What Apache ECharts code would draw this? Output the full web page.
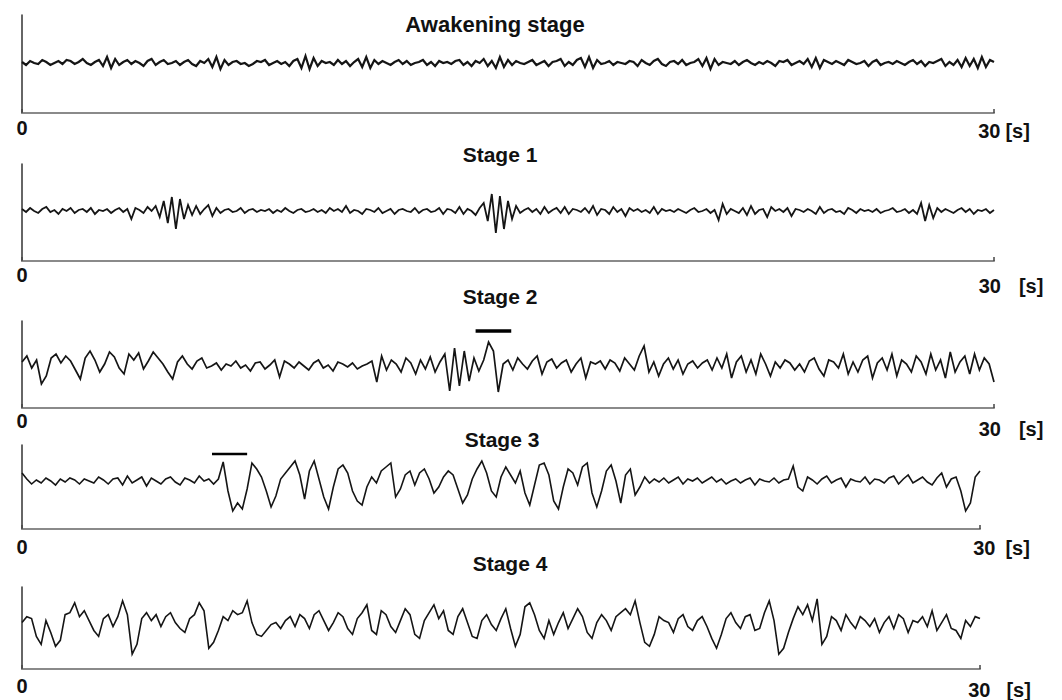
<!DOCTYPE html>
<html>
<head>
<meta charset="utf-8">
<style>
  html, body { margin: 0; padding: 0; background: #fff; }
  #chart { width: 1062px; height: 700px; }
</style>
<script src="https://cdn.jsdelivr.net/npm/echarts@6/dist/echarts.min.js"></script>
</head>
<body>
<div id="chart"></div>
<script>
// EEG traces, one value per sample, 0 = trace baseline
const stageNames = ['Awakening stage', 'Stage 1', 'Stage 2', 'Stage 3', 'Stage 4'];
const timeRange = [0, 30];
const tickLabels = ['0', '30', '[s]'];

const awakeValues = [
  1,-2,2,0,-1,3,1,-2,0,2,-1,3,2,-1,1,4,0,-2,1,3,
  -3,6,-5,4,-2,1,3,-1,2,0,-3,2,4,-2,1,3,-1,0,2,-2,
  1,3,-1,-3,2,0,4,-4,6,-6,3,-2,1,2,-1,0,-3,-1,2,1,
  3,-2,0,2,-1,1,-3,2,4,-5,7,-6,5,-3,2,0,1,-2,3,-1,
  2,-3,1,4,-4,6,-5,3,-1,2,0,-2,1,3,-1,2,-2,0,1,3,
  -2,1,-3,2,0,1,-1,2,3,-2,1,-3,2,0,4,-3,2,-5,6,-4,
  3,-2,2,0,-1,1,3,-2,0,2,-3,1,2,4,-3,1,-2,3,5,-4,
  6,-5,3,-1,0,2,-2,1,0,-1,2,1,-3,3,0,-2,2,4,-1,-3,
  1,2,-1,3,-2,0,1,4,-3,5,-6,4,-2,1,0,-1,2,-2,1,3,
  0,-2,1,-1,2,0,-3,2,1,3,-2,0,2,-1,4,-4,5,-5,3,1,
  -1,2,0,-2,3,1,-1,0,2,-3,1,3,-2,0,1,-1,2,0,-2,1,
  3,-1,2,-3,1,0,2,4,-3,1,-2,3,-4,5,-3,4,-5,6,-4,3,
  1
];

const stage1Values = [
  2,-1,3,0,-2,2,4,-1,1,-3,2,0,3,-2,1,2,-1,3,-3,1,
  0,2,-2,1,3,-1,2,-8,3,1,-2,4,0,5,-6,10,-12,14,-18,12,
  -8,6,-4,5,-3,2,6,-5,3,-2,1,2,-1,0,3,-2,1,2,-1,1,
  0,2,-2,1,-1,3,0,-2,1,2,-1,0,2,-1,1,-2,3,0,2,-1,
  5,-2,1,0,-3,2,1,-1,3,-2,0,2,-3,1,2,0,-1,3,-2,1,
  2,-1,0,3,-3,2,1,-2,4,-3,2,0,-4,3,8,-10,17,-22,15,-18,
  10,-8,5,-2,1,3,-1,2,-3,4,-2,1,3,-2,4,-3,2,1,-1,3,
  -2,5,-4,2,1,-3,4,-1,2,-5,3,0,2,-1,1,-2,4,-3,2,0,
  1,-1,2,0,-2,1,3,-1,0,2,-2,1,-9,7,-3,2,0,-2,3,-4,
  5,-3,1,2,-6,4,0,2,-1,3,-5,2,1,-1,2,0,-3,4,-2,1,
  2,-1,0,-3,3,1,-2,2,0,1,-1,2,-2,0,1,3,-1,0,2,-2,
  1,-3,8,-10,6,-7,3,-1,2,0,-2,1,3,-1,2,-3,1,0,2,-2,
  1
];

const stage2Values = [
  4,10,-2,6,-18,-10,8,12,3,10,5,-4,-13,8,15,6,-6,2,14,9,
  -2,-8,12,6,13,-3,5,14,8,2,-6,-13,4,10,2,-3,5,8,-2,0,
  3,-4,2,0,5,-2,1,-5,3,4,-3,1,6,-11,5,2,-2,4,0,-4,
  3,6,-2,1,-5,4,2,-1,3,-3,0,2,5,-16,10,-4,6,2,-6,8,
  3,-8,6,-3,9,-6,4,12,-25,18,-20,15,-15,8,-5,6,24,15,-26,2,
  6,-4,8,2,-3,5,10,-8,4,7,-2,3,6,-6,2,8,-12,4,2,5,
  -3,6,3,-5,8,2,-4,10,20,-6,4,-10,2,8,-3,6,-8,2,5,-2,
  3,6,-4,8,-2,12,-12,4,10,-6,6,-8,12,2,-10,4,-2,6,3,-4,
  2,-6,5,8,-3,-10,6,4,-2,12,-8,4,-6,6,10,-12,3,8,-4,12,
  -10,6,2,-6,10,4,-8,12,-4,6,-12,14,-6,4,10,-8,12,-4,8,2,
  -16
];

const stage3Values = [
  8,2,-3,1,-2,3,0,-4,2,-1,3,1,-3,2,0,-2,4,1,-3,2,
  3,-4,5,-2,1,4,-5,3,0,-3,2,4,-1,-4,3,1,-2,5,0,2,
  -3,2,19,-10,-30,-22,-28,-8,18,12,4,-10,-26,-15,2,8,14,20,6,-18,
  10,20,2,-16,-28,-6,12,16,8,-10,-20,-24,-6,4,-2,10,14,18,-16,-8,
  6,10,-4,8,12,2,-12,-6,4,10,6,-8,-22,-14,2,12,20,8,-10,-16,
  4,14,6,-2,10,-12,-24,-4,16,18,6,-20,-28,-6,12,8,-4,14,18,-12,
  -26,-10,10,16,0,-22,6,12,-14,-6,4,-2,2,-1,3,-2,1,4,-3,2,
  0,3,-2,1,4,-1,2,-3,0,2,-2,1,3,-4,2,0,-1,3,-2,1,
  2,15,-6,-10,4,1,-3,2,5,-2,1,3,-6,2,0,-1,4,-3,2,1,
  -2,3,5,-3,2,6,-2,1,4,-1,-4,3,8,-6,2,4,-10,-30,-22,4,
  10
];

const stage4Values = [
  2,8,6,-12,-20,4,-8,-22,-16,10,12,22,8,14,4,-6,-12,6,10,-2,
  8,24,10,-30,-20,6,12,4,10,-2,8,12,2,-4,-8,6,10,22,14,-24,
  -18,-6,8,4,14,10,12,24,2,-10,-12,-6,0,2,-4,4,8,-2,10,6,
  -4,10,14,4,-6,2,12,8,-4,-10,6,12,20,-6,-10,14,10,-2,-8,4,
  16,10,-10,-14,4,12,20,6,14,-6,-10,8,16,2,-12,-14,4,10,0,-6,
  6,16,-4,-22,-10,18,22,10,-6,-14,4,-10,2,12,-4,6,16,8,-8,-14,
  2,10,4,-6,8,12,16,10,24,2,-18,-22,-10,8,4,2,-8,6,10,-2,
  -6,4,8,-2,-14,-24,-10,6,12,2,-4,8,10,-6,-4,12,24,4,-30,-24,
  -8,6,18,10,20,4,26,-20,-12,8,4,-6,10,2,-4,8,4,-2,6,-8,
  2,8,-4,10,6,-8,4,2,8,-2,14,-6,2,10,-4,-6,-14,4,-2,8,
  6
];

// horizontal bars over the marked events: [start s, end s], level
const stage2Marker = [14.0, 15.1];
const stage2MarkerLevel = 35;
const stage3Marker = [5.95, 7.05];
const stage3MarkerLevel = 27;

const traces = [awakeValues, stage1Values, stage2Values, stage3Values, stage4Values];

// layout per panel
const layout = [
  { grid: { left: 22, top: 15, width: 972, height: 98 }, y: [-50, 48], title: [495, 13], margin: 5, pt: 3, pl: 20, gap: 5, lw: 2.2 },
  { grid: { left: 22, top: 164, width: 972, height: 97 }, y: [-50, 47], title: [500, 144], margin: 4, pt: 11, pl: 34, gap: 18, lw: 1.8 },
  { grid: { left: 22, top: 321, width: 972, height: 87 }, y: [-42, 45], title: [500, 286], margin: 3, pt: 8, pl: 34, gap: 18, lw: 1.7 },
  { grid: { left: 22, top: 445, width: 958, height: 84 }, y: [-48, 36], title: [502, 429], margin: 8, pt: 1, pl: 43, gap: 10, lw: 1.6 },
  { grid: { left: 22, top: 587, width: 958, height: 83 }, y: [-45, 38], title: [510, 553], margin: 7, pt: 4, pl: 39, gap: 16, lw: 1.6 }
];

const font = 'Liberation Sans, Arial, sans-serif';

const toPairs = (vals) => vals.map((v, i) => [timeRange[0] + i * (timeRange[1] - timeRange[0]) / (vals.length - 1), v]);

const chart = echarts.init(document.getElementById('chart'), null, { renderer: 'svg' });

const option = {
  animation: false,
  backgroundColor: '#fff',
  title: layout.map((l, i) => ({
    text: stageNames[i],
    left: l.title[0],
    top: l.title[1],
    textAlign: 'center',
    padding: 0,
    textStyle: { fontFamily: font, fontSize: i === 0 ? 22 : 21, fontWeight: 'bold', color: '#111' }
  })),
  grid: layout.map(l => l.grid),
  xAxis: layout.map((l, i) => ({
    type: 'value',
    gridIndex: i,
    min: timeRange[0],
    max: timeRange[1],
    interval: timeRange[1] - timeRange[0],
    splitLine: { show: false },
    axisLine: { onZero: false, lineStyle: { color: '#8a8a8a', width: 2 } },
    axisTick: { show: true, inside: true, length: 4, lineStyle: { color: '#444', width: 1.5 } },
    axisLabel: {
      show: true,
      showMinLabel: true,
      showMaxLabel: true,
      margin: l.margin,
      fontFamily: font,
      fontSize: 20,
      fontWeight: 'bold',
      color: '#111',
      formatter: v => v === timeRange[0] ? tickLabels[0] : '{m|' + tickLabels[1] + '}{s|' + tickLabels[2] + '}',
      rich: {
        m: { fontFamily: font, fontSize: 20, fontWeight: 'bold', color: '#111', padding: [l.pt, 0, 0, l.pl] },
        s: { fontFamily: font, fontSize: 20, fontWeight: 'bold', color: '#111', padding: [l.pt, 0, 0, l.gap] }
      }
    }
  })),
  yAxis: layout.map((l, i) => ({
    type: 'value',
    gridIndex: i,
    min: l.y[0],
    max: l.y[1],
    splitLine: { show: false },
    axisTick: { show: false },
    axisLabel: { show: false },
    axisLine: { show: true, onZero: false, lineStyle: { color: '#333', width: 1.5 } }
  })),
  series: traces.map((vals, i) => ({
    type: 'line',
    xAxisIndex: i,
    yAxisIndex: i,
    data: toPairs(vals),
    showSymbol: false,
    symbol: 'none',
    lineStyle: { color: '#151515', width: layout[i].lw, join: 'miter' },
    silent: true
  })).concat([
    {
      type: 'line', xAxisIndex: 2, yAxisIndex: 2, symbol: 'none',
      data: stage2Marker.map(t => [t, stage2MarkerLevel]),
      lineStyle: { color: '#000', width: 3.5 }
    },
    {
      type: 'line', xAxisIndex: 3, yAxisIndex: 3, symbol: 'none',
      data: stage3Marker.map(t => [t, stage3MarkerLevel]),
      lineStyle: { color: '#000', width: 2.5 }
    }
  ])
};

chart.setOption(option);
</script>
</body>
</html>
